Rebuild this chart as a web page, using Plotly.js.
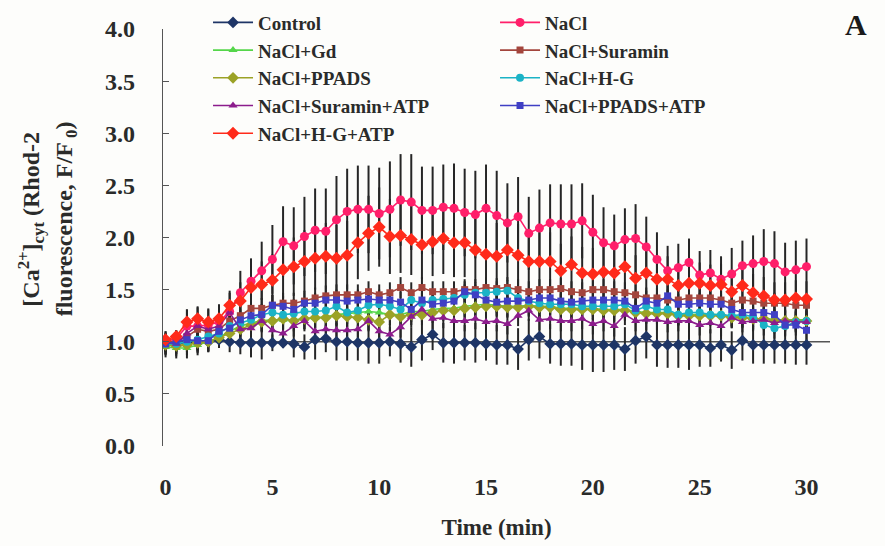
<!DOCTYPE html>
<html>
<head>
<meta charset="utf-8">
<script src="https://cdn.plot.ly/plotly-3.0.1.min.js"></script>
<style>
  html, body { margin: 0; padding: 0; background: #fdfdfb; }
  #chart { width: 885px; height: 546px; }
</style>
</head>
<body>
<div id="chart"></div>
<script>
// Time points (min), sampled every 0.5 min
const time = [0,0.5,1,1.5,2,2.5,3,3.5,4,4.5,5,5.5,6,6.5,7,7.5,8,8.5,9,9.5,
  10,10.5,11,11.5,12,12.5,13,13.5,14,14.5,15,15.5,16,16.5,17,17.5,18,18.5,19,19.5,
  20,20.5,21,21.5,22,22.5,23,23.5,24,24.5,25,25.5,26,26.5,27,27.5,28,28.5,29,29.5,30];

// [Ca2+]cyt (F/F0) per treatment
const control = [1.00,0.98,0.99,0.99,1.00,1.02,1.00,0.99,0.99,0.99,
  0.99,0.99,0.98,0.95,1.02,1.03,1.00,1.00,0.99,0.99,
  0.99,1.00,0.98,0.95,1.02,1.07,0.99,0.99,0.99,0.99,
  0.98,0.97,0.97,0.93,1.02,1.05,0.98,0.98,0.98,0.97,
  0.97,0.97,0.97,0.93,1.01,1.05,0.97,0.97,0.97,0.97,
  0.97,0.94,0.97,0.92,1.01,0.97,0.97,0.97,0.97,0.97,0.97];
const nacl = [1.00,1.03,1.15,1.15,1.16,1.19,1.29,1.47,1.58,1.68,
  1.79,1.96,1.92,2.01,2.07,2.06,2.17,2.25,2.27,2.27,
  2.23,2.27,2.36,2.34,2.26,2.26,2.29,2.28,2.24,2.22,
  2.28,2.21,2.14,2.20,2.04,2.09,2.14,2.13,2.13,2.16,
  2.05,1.95,1.92,1.98,1.99,1.91,1.79,1.68,1.71,1.76,
  1.64,1.66,1.60,1.65,1.73,1.75,1.77,1.75,1.67,1.69,1.72];
const naclGd = [0.95,0.94,0.94,0.97,1.00,1.04,1.10,1.15,1.18,1.20,
  1.21,1.21,1.21,1.22,1.23,1.24,1.26,1.27,1.28,1.29,
  1.28,1.26,1.26,1.29,1.29,1.31,1.32,1.32,1.34,1.35,
  1.36,1.35,1.34,1.34,1.35,1.34,1.34,1.32,1.32,1.32,
  1.32,1.31,1.31,1.31,1.29,1.28,1.28,1.28,1.26,1.26,
  1.26,1.26,1.26,1.24,1.24,1.21,1.23,1.21,1.21,1.21,1.21];
const naclSuramin = [1.00,1.00,1.05,1.12,1.10,1.12,1.20,1.25,1.32,1.32,
  1.35,1.37,1.37,1.39,1.42,1.44,1.45,1.45,1.45,1.48,
  1.45,1.47,1.52,1.47,1.52,1.48,1.48,1.48,1.50,1.50,
  1.52,1.51,1.52,1.50,1.48,1.50,1.50,1.51,1.48,1.47,
  1.50,1.50,1.48,1.47,1.45,1.42,1.42,1.40,1.40,1.42,
  1.42,1.42,1.40,1.37,1.40,1.39,1.37,1.37,1.37,1.35,1.35];
const naclPpads = [0.97,0.96,0.97,0.99,1.00,1.04,1.08,1.12,1.16,1.19,
  1.20,1.22,1.20,1.22,1.23,1.23,1.25,1.24,1.23,1.21,
  1.19,1.26,1.24,1.26,1.26,1.28,1.30,1.30,1.32,1.33,
  1.34,1.34,1.33,1.33,1.34,1.33,1.33,1.31,1.31,1.31,
  1.31,1.30,1.30,1.30,1.28,1.27,1.27,1.27,1.25,1.25,
  1.25,1.25,1.25,1.23,1.23,1.22,1.22,1.20,1.20,1.20,1.20];
const naclHG = [0.98,0.98,1.00,1.02,1.05,1.08,1.15,1.18,1.21,1.26,
  1.28,1.26,1.27,1.29,1.29,1.30,1.34,1.28,1.30,1.35,
  1.36,1.34,1.31,1.40,1.37,1.40,1.41,1.42,1.45,1.47,
  1.47,1.48,1.49,1.42,1.39,1.37,1.36,1.36,1.36,1.34,
  1.34,1.34,1.34,1.36,1.30,1.34,1.31,1.31,1.26,1.28,
  1.28,1.26,1.26,1.25,1.26,1.24,1.16,1.13,1.15,1.19,1.20];
const naclSuraminAtp = [1.00,0.98,1.08,1.15,1.12,1.15,1.28,1.12,1.13,1.20,
  1.11,1.08,1.15,1.20,1.10,1.12,1.11,1.11,1.12,1.20,
  1.10,1.07,1.14,1.24,1.31,1.22,1.23,1.20,1.20,1.22,
  1.19,1.20,1.17,1.25,1.30,1.21,1.22,1.20,1.20,1.22,
  1.17,1.20,1.15,1.26,1.20,1.21,1.21,1.19,1.20,1.20,
  1.16,1.18,1.15,1.23,1.19,1.20,1.21,1.18,1.20,1.19,1.19];
const naclPpadsAtp = [0.98,1.00,1.02,1.01,1.01,1.10,1.13,1.21,1.25,1.26,
  1.35,1.34,1.31,1.37,1.37,1.40,1.40,1.39,1.40,1.41,
  1.40,1.40,1.38,1.31,1.40,1.36,1.37,1.39,1.48,1.45,
  1.40,1.38,1.39,1.39,1.40,1.42,1.42,1.39,1.38,1.39,
  1.40,1.40,1.40,1.39,1.32,1.39,1.37,1.44,1.36,1.36,
  1.37,1.36,1.36,1.31,1.28,1.28,1.28,1.26,1.16,1.16,1.11];
const naclHGAtp = [1.02,1.05,1.19,1.22,1.19,1.22,1.35,1.39,1.52,1.55,
  1.59,1.69,1.72,1.77,1.80,1.82,1.80,1.83,1.95,2.04,
  2.10,2.01,2.02,1.98,1.93,1.96,1.99,1.95,1.95,1.88,
  1.84,1.82,1.88,1.83,1.77,1.77,1.77,1.68,1.74,1.66,
  1.65,1.67,1.66,1.72,1.61,1.66,1.60,1.60,1.54,1.56,
  1.56,1.54,1.55,1.48,1.54,1.47,1.44,1.40,1.40,1.42,1.41];

// Standard errors
const controlErr = [0.03,0.04,0.06,0.09,0.09,0.06,0.10,0.11,0.14,0.16,
  0.08,0.05,0.13,0.12,0.19,0.13,0.18,0.18,0.17,0.20,
  0.20,0.14,0.18,0.19,0.20,0.15,0.19,0.20,0.17,0.19,
  0.16,0.19,0.19,0.20,0.20,0.21,0.19,0.21,0.21,0.24,
  0.26,0.26,0.24,0.21,0.22,0.21,0.21,0.22,0.22,0.24,
  0.21,0.18,0.16,0.18,0.19,0.18,0.18,0.18,0.18,0.19,0.19];
const naclErr = [0.03,0.08,0.16,0.18,0.16,0.16,0.18,0.21,0.22,0.28,
  0.33,0.34,0.37,0.38,0.40,0.41,0.42,0.41,0.42,0.42,
  0.44,0.46,0.44,0.46,0.42,0.42,0.41,0.43,0.42,0.42,
  0.42,0.43,0.38,0.38,0.35,0.37,0.37,0.38,0.38,0.36,
  0.36,0.34,0.30,0.30,0.33,0.29,0.26,0.24,0.23,0.23,
  0.23,0.22,0.22,0.25,0.24,0.27,0.31,0.31,0.28,0.28,0.27];
const naclHGAtpErr = [0.03,0.06,0.12,0.12,0.12,0.14,0.14,0.18,0.20,0.22,
  0.25,0.27,0.28,0.30,0.30,0.32,0.32,0.33,0.35,0.36,
  0.38,0.36,0.36,0.34,0.33,0.33,0.34,0.33,0.33,0.32,
  0.32,0.32,0.30,0.30,0.28,0.28,0.28,0.26,0.27,0.25,
  0.25,0.25,0.24,0.25,0.22,0.24,0.22,0.22,0.20,0.20,
  0.20,0.20,0.20,0.18,0.19,0.18,0.18,0.17,0.17,0.17,0.17];
const treatmentErr = 0.10;   // SE of the remaining NaCl treatments

const seriesNames = ['Control','NaCl','NaCl+Gd','NaCl+Suramin','NaCl+PPADS','NaCl+H-G',
  'NaCl+Suramin+ATP','NaCl+PPADS+ATP','NaCl+H-G+ATP'];

const SERIF = '"Liberation Serif", "Times New Roman", Times, serif';
const TEXT = '#2a2b2a';

const series = [
  {name: seriesNames[0], y: control,        err: controlErr,    color: '#1e3566', symbol: 'diamond',     size: 9},
  {name: seriesNames[1], y: nacl,           err: naclErr,       color: '#ff1f6a', symbol: 'circle',      size: 9},
  {name: seriesNames[2], y: naclGd,         err: treatmentErr,  color: '#55d64a', symbol: 'triangle-up', size: 8},
  {name: seriesNames[3], y: naclSuramin,    err: treatmentErr,  color: '#a3453c', symbol: 'square',      size: 7},
  {name: seriesNames[4], y: naclPpads,      err: treatmentErr,  color: '#9ba226', symbol: 'diamond',     size: 9},
  {name: seriesNames[5], y: naclHG,         err: treatmentErr,  color: '#1bb3c6', symbol: 'circle',      size: 8},
  {name: seriesNames[6], y: naclSuraminAtp, err: treatmentErr,  color: '#8c1c8c', symbol: 'triangle-up', size: 8},
  {name: seriesNames[7], y: naclPpadsAtp,   err: treatmentErr,  color: '#3f3fc4', symbol: 'square',      size: 7},
  {name: seriesNames[8], y: naclHGAtp,      err: naclHGAtpErr,  color: '#ff2a1a', symbol: 'diamond',     size: 10}
];

function errorSpec(e) {
  const base = {visible: true, color: '#262626', thickness: 2, width: 0};
  return Array.isArray(e) ? Object.assign(base, {type: 'data', array: e})
                          : Object.assign(base, {type: 'constant', value: e});
}

// error bars first so every marker sits on top of them
const errTraces = series.map(s => ({
  x: time, y: s.y, type: 'scatter', mode: 'markers',
  marker: {size: 1, opacity: 0},
  error_y: errorSpec(s.err),
  showlegend: false, hoverinfo: 'skip'
}));

const dataTraces = series.map(s => ({
  x: time, y: s.y, name: s.name, type: 'scatter', mode: 'lines+markers',
  line: {color: s.color, width: 1.6},
  marker: {color: s.color, symbol: s.symbol, size: s.size}
}));

const layout = {
  width: 885, height: 546,
  // fixed plot box: the legend sits in the top margin without pushing it
  margin: {l: 163, r: 55, t: 29, b: 100, autoexpand: false},
  paper_bgcolor: '#fdfdfb', plot_bgcolor: '#fdfdfb',
  showlegend: true,
  legend: {
    orientation: 'h', x: 0.0675, y: 1.061, xanchor: 'left', yanchor: 'top',
    entrywidth: 232, entrywidthmode: 'pixels',
    bgcolor: 'rgba(0,0,0,0)',
    font: {family: SERIF, size: 19, weight: 'bold', color: TEXT},
    itemwidth: 40
  },
  xaxis: {
    range: [-0.12, 31.1], dtick: 5, tick0: 0,
    showline: false, showgrid: false, zeroline: false, ticks: '',
    ticklabelstandoff: 24,
    tickfont: {family: SERIF, size: 24, weight: 'bold', color: TEXT},
    title: {text: 'Time (min)', standoff: 19,
            font: {family: SERIF, size: 23, weight: 'bold', color: TEXT}}
  },
  yaxis: {
    range: [0, 4], dtick: 0.5, tick0: 0, tickformat: '.1f',
    showline: true, linecolor: '#555', linewidth: 1.3,
    ticks: 'inside', ticklen: 6, tickcolor: '#555', tickwidth: 1.2,
    showgrid: false, zeroline: false,
    ticklabelstandoff: 22,
    tickfont: {family: SERIF, size: 24, weight: 'bold', color: TEXT}
  },
  shapes: [
    // horizontal axis crosses at F/F0 = 1.0
    {type: 'line', xref: 'paper', x0: 0, x1: 1, yref: 'y', y0: 1, y1: 1,
     line: {color: '#555', width: 1.3}, layer: 'below'}
  ],
  annotations: [
    {text: '[Ca<sup>2+</sup>]<sub>cyt</sub> (Rhod-2', textangle: -90,
     xref: 'paper', yref: 'paper', x: -0.198, y: 0.545, xanchor: 'center', yanchor: 'middle',
     showarrow: false, font: {family: SERIF, size: 24, weight: 'bold', color: TEXT}},
    {text: 'fluorescence, F/F<sub> 0</sub>)', textangle: -90,
     xref: 'paper', yref: 'paper', x: -0.146, y: 0.545, xanchor: 'center', yanchor: 'middle',
     showarrow: false, font: {family: SERIF, size: 24, weight: 'bold', color: TEXT}},
    {text: 'A', xref: 'paper', yref: 'paper', x: 1.039, y: 1.01,
     xanchor: 'center', yanchor: 'middle', showarrow: false,
     font: {family: SERIF, size: 30, weight: 'bold', color: '#1a1a1a'}}
  ]
};

Plotly.newPlot('chart', errTraces.concat(dataTraces), layout, {displayModeBar: false, staticPlot: true});
</script>
</body>
</html>
